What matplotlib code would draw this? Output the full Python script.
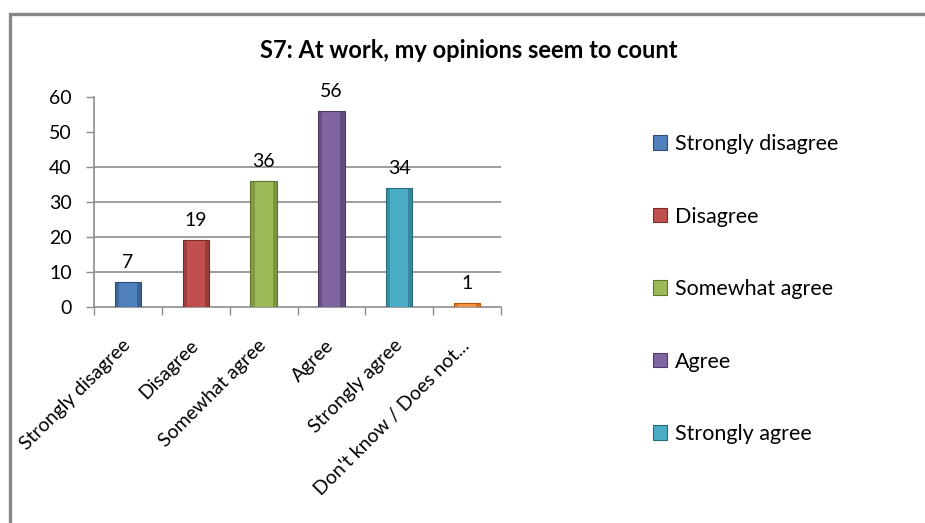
import matplotlib
matplotlib.use("Agg")
import matplotlib.pyplot as plt
import matplotlib.patches as patches
import numpy as np

plt.rcParams['font.family'] = ['Lato', 'DejaVu Sans']

title = "S7: At work, my opinions seem to count"
categories = ["Strongly disagree", "Disagree", "Somewhat agree", "Agree",
              "Strongly agree", "Don't know / Does not..."]
values = [7, 19, 36, 56, 34, 1]
colors = ["#4F81BD", "#C0504D", "#9BBB59", "#8064A2", "#4BACC6", "#F79646"]
dark_colors = ["#2C4D75", "#772C2A", "#5F7530", "#4D3B62", "#276A7C", "#B65708"]
legend_count = 5  # legend in the original is cut off after five entries


def main():
    fig = plt.figure(figsize=(9.25, 5.23), dpi=100)
    ax = fig.add_axes([94 / 925, 1 - 306.7 / 523, 407 / 925, 209.4 / 523])

    x = np.arange(len(categories))
    w = 0.39
    bars = ax.bar(x, values, width=w, color=colors, edgecolor=dark_colors,
                  linewidth=0.8, zorder=3)
    # darker sides to fake the bevelled look
    side = w * 0.16
    ax.bar(x - w / 2 + side / 2, values, width=side, color=dark_colors,
           alpha=0.45, linewidth=0, zorder=4)
    ax.bar(x + w / 2 - side / 2, values, width=side, color=dark_colors,
           alpha=0.55, linewidth=0, zorder=4)

    for xi, v in zip(x, values):
        ax.annotate(str(v), (xi, v), xytext=(0, 8), textcoords='offset points',
                    ha='center', va='bottom', fontsize=14, color='black')

    ax.set_xlim(-0.5, len(categories) - 0.5)
    ax.set_ylim(0, 60)
    ax.set_yticks(range(0, 61, 10))
    for g in range(10, 41, 10):
        ax.axhline(g, color='#8c8c8c', linewidth=1.2, zorder=1)

    ax.set_xticks(x)
    ax.set_xticklabels(categories, rotation=45, ha='right', va='center',
                       rotation_mode='anchor', fontsize=14)
    ax.set_xticks(np.arange(-0.5, len(categories)), minor=True)
    ax.tick_params(axis='x', which='major', length=0, pad=26)
    ax.tick_params(axis='x', which='minor', length=6, width=1, color='#8c8c8c')
    ax.tick_params(axis='y', length=6, width=1, color='#8c8c8c', pad=10,
                   labelsize=14)

    for s in ['top', 'right']:
        ax.spines[s].set_visible(False)
    for s in ['left', 'bottom']:
        ax.spines[s].set_color('#8c8c8c')
        ax.spines[s].set_linewidth(1.2)

    fig.text(469 / 925, 1 - 58 / 523, title, ha='center', va='baseline',
             fontsize=17, fontweight='bold')

    fig.legend(bars.patches[:legend_count], categories[:legend_count],
               loc='upper left', bbox_to_anchor=(653 / 925, 1 - 134 / 523),
               frameon=False, fontsize=15.5, borderaxespad=0, borderpad=0,
               handlelength=0.65, handleheight=0.65, handletextpad=0.35,
               labelspacing=2.44)

    border = patches.Rectangle((9.5 / 925, -0.2), 1.1, 1.2 - 14 / 523,
                               transform=fig.transFigure, fill=False,
                               edgecolor='#878787', linewidth=2.4)
    fig.patches.append(border)

    fig.savefig("out.png", dpi=100)


if __name__ == '__main__':
    main()
